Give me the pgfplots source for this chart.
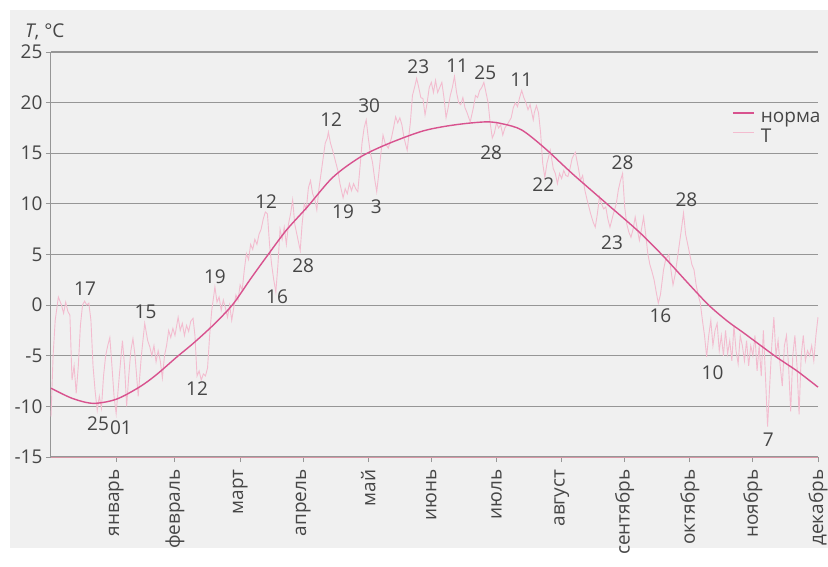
\documentclass[border=0pt]{standalone}
\usepackage{fontspec}
\setmainfont{Open Sans}
\usepackage{pgfplots}
\pgfplotsset{compat=1.18}
\definecolor{normc}{RGB}{216,82,142}
\definecolor{tcol}{RGB}{243,188,207}
\definecolor{gridc}{RGB}{150,150,150}
\definecolor{txt}{RGB}{70,70,70}
\definecolor{panel}{RGB}{240,240,240}
\definecolor{xaxc}{RGB}{215,150,165}
\newcommand\ff{\fontsize{19}{22}\selectfont}
\begin{document}
\begin{tikzpicture}
\fill[white] (-51pt,-109pt) rectangle (777pt,457pt);
\fill[panel] (-41pt,-91pt) rectangle (777pt,447pt);
\begin{axis}[
 at={(0pt,0pt)}, anchor=south west,
 scale only axis, width=767pt, height=405pt,
 xmin=0, xmax=365, ymin=-15, ymax=25,
 axis x line=bottom, axis y line=left,
 x axis line style={-, draw=xaxc, line width=1pt},
 y axis line style={-, draw=gridc, line width=1pt},
 xtick={31,59,90,120,151,181,212,243,273,304,334,365},
 xticklabels={январь,февраль,март,апрель,май,июнь,июль,август,сентябрь,октябрь,ноябрь,декабрь},
 x tick label style={rotate=90, anchor=east, font=\ff, text=txt},
 xticklabel shift=4pt,
 ytick={-15,-10,-5,0,5,10,15,20,25},
 yticklabels={-15,-10,-5,0,5,10,15,20,25},
 y tick label style={font=\ff, text=txt},
 tick align=outside, major tick length=5pt,
 tick style={draw=gridc, line width=1pt},
 ymajorgrids, grid style={draw=gridc, line width=1.2pt},
 clip=false,
 legend style={at={(axis cs:324,19.5)}, anchor=north west, draw=none, fill=none,
   inner sep=0pt, font=\ff, text=txt, row sep=0pt, column sep=5pt,
   nodes={inner sep=1pt, text height=13.5pt, text depth=4.5pt}},
 legend cell align=left,
 legend image code/.code={\draw[#1] (0pt,5pt) -- (21pt,5pt);},
]
\addlegendimage{normc, line width=1.8pt}
\addlegendentry{норма}
\addlegendimage{tcol, line width=1pt}
\addlegendentry{T}
\addplot[tcol, line width=0.9pt, forget plot] coordinates {
(0,-11)(1,-5)(2,-1.5)(3.5,0.8)(5,0)(6,-0.8)(7,0.3)(8,-0.6)(9,-1)(10,-7.4)(11,-6)(12,-8.7)(13,-6)(14,-2)(15,0)(16,0.4)(17,0)(18,0.2)(19,-1.5)(20,-6)(21,-8.5)(22,-10.4)(23,-9)(24,-10.2)(25,-7)(26,-5)(27,-4)(28,-3.2)(29,-6)(30,-9)(31,-10.7)(32.5,-7)(34,-3.5)(35,-6)(36,-10)(37,-7)(38,-4.5)(39,-3.3)(40,-5)(41.5,-9)(43,-5)(44.6,-1.8)(46,-3.5)(47,-4.1)(48,-5)(49,-4)(50,-5.6)(51,-4.5)(52,-5.5)(53,-7.2)(54,-5)(55,-4)(56,-2.5)(57,-3.2)(58,-2.3)(59,-3)(60.5,-1.2)(61.5,-2.5)(62.5,-1.8)(63.5,-3)(64.5,-2)(65.5,-2.6)(66.5,-1.6)(67.6,-1.3)(68.5,-3)(69.5,-7)(70.5,-6.5)(71.5,-7.4)(72.5,-6.8)(73.5,-7)(74.5,-6.2)(75.5,-3)(76.5,-0.5)(77.5,1)(78,1.8)(79,0.3)(80,0.8)(81,-0.5)(82,0.5)(83,-0.3)(84,-1.2)(85,0)(86,-1.5)(87,-0.2)(88,1)(89,0.5)(90,2)(91,1.5)(92,3.5)(93,5.1)(94,4.5)(95,6)(96,5.5)(97,6.5)(98,6)(99,7)(100,7.5)(101,8.5)(102,9.2)(103,9)(104,6)(105,4)(106,2.5)(107,1.3)(108,4)(109,7.5)(110,6.5)(111,7.7)(112,6)(113,8)(114,9)(115,10.4)(116,8)(117,7)(118,6)(118.6,5.4)(119.5,8)(120.5,10)(121.5,9.5)(122.5,11.6)(123.5,12.3)(124.5,11)(125.5,10.5)(126.5,9.4)(127.5,11.5)(128.5,13)(129.5,14.5)(130.5,16)(131.5,16.5)(132,17.1)(133,16)(134,15.3)(135,14.5)(136.5,13.3)(137.5,12)(139,10.6)(140,11.5)(141,11)(142,12)(143,11.3)(144,12)(145,11.5)(146,11.2)(147,13.5)(148,16)(149,17.5)(150,18.3)(151,16.5)(152,15)(153,14.1)(154,12.5)(155,11.2)(156,13)(157,15)(158,16.8)(159,16)(160.5,15.5)(162,16.5)(163,17.5)(164,18.6)(165,18)(166,18.5)(167,17.8)(168,16.5)(169.5,15.3)(171,18)(172,20.7)(173,21.5)(174,22.4)(175,21.5)(176,20.5)(177,20.4)(178,18.8)(179,20)(180,21.5)(181,22)(182,21)(183,22.2)(184,21)(185,21.5)(186,22)(187,20.5)(188,18.5)(189,19.5)(190,20.7)(191,21.5)(192,22.6)(193,21)(194,20)(195,19.8)(196,20.5)(197,19.5)(198,19)(199.5,18.1)(201,19.5)(202,20.7)(203,20.5)(204,21.2)(205,21.5)(206,22)(207,21)(208,20)(209,18)(210,16.5)(211,17)(212,18)(213,17.5)(214,17.8)(215,16.8)(216,17.5)(217.6,18)(219,18.5)(220,19.5)(221,20)(222,19.6)(223,20.5)(224,21.2)(225,20.5)(226,20)(227,19.3)(228,19.8)(229.5,18.3)(230,19)(231,19.7)(232,19)(233,17)(234,14)(235,12.6)(236,14)(237.6,15.3)(239,13.5)(240,13)(241,12)(242,13)(243,12.5)(244,13.3)(245,12.8)(246,12.7)(247,13.5)(248,14.5)(249.5,15.1)(251,13.5)(252,12.3)(253,12.8)(254,11.4)(255,10.5)(256.7,9.1)(258,8.2)(259,7.7)(260,9)(261,10.7)(262,10)(263,9.5)(264,9.7)(265,8.5)(266,7.7)(267.6,9)(269,10)(270,11.4)(271,12.3)(272,13)(273,9.7)(274,8)(275,7.2)(276,6.7)(277,7.5)(278,8.7)(279,7.5)(280,6.4)(281,7.5)(282,8.7)(283,7)(284,5.1)(285,4)(286,3.3)(287,2.5)(288,1.3)(289,0.2)(290,1)(291.5,3.5)(292.5,4.5)(294,5)(295,3.5)(296,2)(297,3)(298,4.5)(299,6)(300,7.5)(301,9.1)(302,7)(303,6)(304,5)(305,4)(306,3.5)(307,2)(308,1)(309,0.2)(310,-1.5)(311,-3)(312,-5.1)(313,-3)(314,-1.5)(315,-4)(316,-2.5)(317,-1.8)(318,-4.5)(319,-3)(320,-5)(321,-2.5)(322,-4.8)(323,-3.5)(324,-5.5)(325,-2)(326,-4.5)(327,-5.8)(328,-3)(329,-4)(330,-5.5)(331,-3.5)(332,-6)(333,-4)(334,-5)(335,-3)(336,-6.5)(337,-4)(338,-7)(339,-2.5)(340,-7)(341,-12)(342,-8)(343,-4)(344,-1.2)(345,-5)(346,-3.5)(347,-6)(348,-8)(349,-4)(350,-3)(351,-6)(352,-10.5)(353,-5)(354,-3)(355,-6)(356,-10.8)(357,-5)(358,-3)(359,-5.5)(360,-4.5)(361,-5)(362,-4)(363,-5.5)(364,-3)(365,-1.2)
};
\addplot[normc, line width=1.4pt, smooth, forget plot] coordinates {
(0,-8.2)(10,-9.2)(20,-9.7)(31,-9.3)(42,-8.1)(50,-6.9)(60,-5.1)(67,-3.9)(74,-2.6)(80,-1.4)(87,0.2)(95,2.6)(103,4.9)(112,7.4)(122,9.7)(134,12.6)(147,14.6)(160,15.9)(177,17.2)(192,17.8)(207,18.1)(215,17.9)(224,17.3)(235,15.5)(248,13)(264,10.1)(280,7.2)(292,4.7)(303,2.2)(313,0)(322,-1.6)(330,-2.8)(345,-5.1)(355,-6.5)(365,-8.1)
};
\begin{scope}[every node/.style={font=\ff, text=txt}]
\node at (axis cs:16.2,1.6) {17};
\node at (axis cs:45,-0.7) {15};
\node at (axis cs:22.4,-11.75) {25};
\node at (axis cs:33.3,-12.1) {01};
\node at (axis cs:69.5,-8.2) {12};
\node at (axis cs:78,2.8) {19};
\node at (axis cs:102.4,10.2) {12};
\node at (axis cs:107.6,0.8) {16};
\node at (axis cs:120,3.85) {28};
\node at (axis cs:133.3,18.3) {12};
\node at (axis cs:139,9.2) {19};
\node at (axis cs:154.8,9.7) {3};
\node at (axis cs:151.4,19.7) {30};
\node at (axis cs:174.8,23.5) {23};
\node at (axis cs:193.3,23.6) {11};
\node at (axis cs:206.7,23) {25};
\node at (axis cs:209.5,15.1) {28};
\node at (axis cs:223.8,22.3) {11};
\node at (axis cs:234.3,11.95) {22};
\node at (axis cs:272,14.1) {28};
\node at (axis cs:267,6.2) {23};
\node at (axis cs:302.4,10.4) {28};
\node at (axis cs:290,-1) {16};
\node at (axis cs:314.8,-6.7) {10};
\node at (axis cs:341.4,-13.3) {7};
\end{scope}
\end{axis}
\node[anchor=base west, font=\ff, text=txt, inner sep=0pt] at (-26pt,419pt) {\textit{T}, °C};
\pgfresetboundingbox
\useasboundingbox (-51pt,-109pt) rectangle (777pt,457pt);
\end{tikzpicture}
\end{document}
